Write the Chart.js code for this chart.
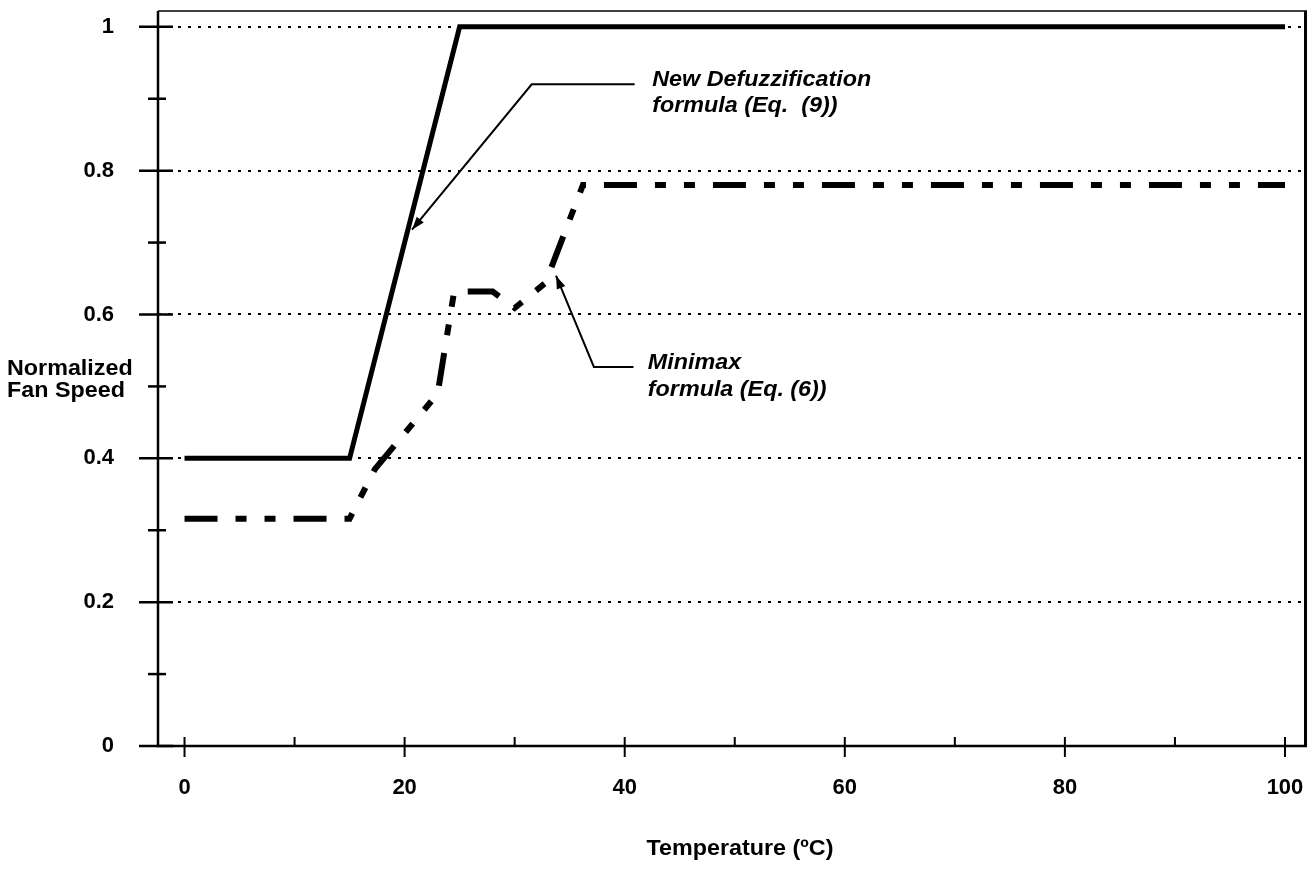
<!DOCTYPE html>
<html>
<head>
<meta charset="utf-8">
<script src="https://cdn.jsdelivr.net/npm/chart.js@4/dist/chart.umd.min.js"></script>
<style>
  html, body { margin: 0; padding: 0; background: #fff; overflow: hidden; }
  canvas { display: block; }
</style>
</head>
<body>
<canvas id="fanChart" width="1316" height="869"></canvas>
<script>
// values
var temperature = [0, 15, 25, 100];
var newDefuzz = [0.4, 0.4, 1, 1];

var minimaxTemp = [0, 15, 17.3, 23, 24.5, 28, 30, 32.8, 36.2, 100];
var minimax = [0.316, 0.316, 0.385, 0.49, 0.632, 0.632, 0.609, 0.644, 0.78, 0.78];

var xTickValues = [0, 10, 20, 30, 40, 50, 60, 70, 80, 90, 100];
var xTickLabels = ['0', '', '20', '', '40', '', '60', '', '80', '', '100'];
var yTickValues = [0, 0.1, 0.2, 0.3, 0.4, 0.5, 0.6, 0.7, 0.8, 0.9, 1];
var yTickLabels = ['0', '', '0.2', '', '0.4', '', '0.6', '', '0.8', '', '1'];

// callouts, in data units: text lines, text anchor, elbow, arrow tip
var callouts = [
  { lines: ['New Defuzzification', 'formula (Eq.  (9))'], textX: 42.5, textY: [0.918, 0.881],
    lineStart: 40.9, elbow: [31.55, 0.92], tip: [20.67, 0.718] },
  { lines: ['Minimax', 'formula (Eq. (6))'], textX: 42.1, textY: [0.524, 0.487],
    lineStart: 40.8, elbow: [37.2, 0.527], tip: [33.76, 0.654] }
];

var FONT = '"Liberation Sans", Arial, Helvetica, sans-serif';

function arrowHead(ctx, fx, fy, tx, ty) {
  var ang = Math.atan2(ty - fy, tx - fx);
  var len = 13, half = 4.5;
  ctx.beginPath();
  ctx.moveTo(tx, ty);
  ctx.lineTo(tx - len * Math.cos(ang) + half * Math.sin(ang), ty - len * Math.sin(ang) - half * Math.cos(ang));
  ctx.lineTo(tx - len * Math.cos(ang) - half * Math.sin(ang), ty - len * Math.sin(ang) + half * Math.cos(ang));
  ctx.closePath();
  ctx.fill();
}

// the scanned lettering is a bit wider than Arial, stretch it slightly
function wideText(ctx, text, px, py) {
  ctx.save();
  ctx.translate(px, py);
  ctx.scale(1.06, 1);
  ctx.fillText(text, 0, 0);
  ctx.restore();
}

var decor = {
  id: 'decor',
  beforeDatasetsDraw: function(chart) {
    var ctx = chart.ctx, a = chart.chartArea, x = chart.scales.x, y = chart.scales.y;
    ctx.save();
    ctx.strokeStyle = '#000';
    ctx.lineCap = 'butt';

    // frame
    ctx.lineWidth = 1.5;
    ctx.beginPath(); ctx.moveTo(a.left, a.top); ctx.lineTo(a.right, a.top); ctx.stroke();
    ctx.lineWidth = 3;
    ctx.beginPath(); ctx.moveTo(a.right - 1.5, a.top); ctx.lineTo(a.right - 1.5, a.bottom); ctx.stroke();
    ctx.lineWidth = 2.5;
    ctx.beginPath(); ctx.moveTo(a.left, a.top); ctx.lineTo(a.left, a.bottom); ctx.lineTo(a.right, a.bottom); ctx.stroke();

    // y tick marks
    ctx.lineWidth = 2.5;
    yTickValues.forEach(function(v, i) {
      var py = y.getPixelForValue(v);
      var major = yTickLabels[i] !== '';
      ctx.beginPath();
      ctx.moveTo(a.left - (major ? 19 : 10), py);
      ctx.lineTo(a.left + (major ? 15 : 8), py);
      ctx.stroke();
    });
    // x tick marks
    ctx.lineWidth = 2;
    xTickValues.forEach(function(v, i) {
      var px = x.getPixelForValue(v);
      var major = xTickLabels[i] !== '';
      ctx.beginPath();
      ctx.moveTo(px, a.bottom - 9);
      ctx.lineTo(px, a.bottom + (major ? 11 : 0));
      ctx.stroke();
    });
    ctx.restore();
  },
  afterDraw: function(chart) {
    var ctx = chart.ctx, x = chart.scales.x, y = chart.scales.y;
    ctx.save();
    ctx.fillStyle = '#000';
    ctx.strokeStyle = '#000';

    // axis titles
    ctx.font = 'bold 22px ' + FONT;
    ctx.textBaseline = 'alphabetic';
    ctx.textAlign = 'left';
    wideText(ctx, 'Normalized', 7, 375);
    wideText(ctx, 'Fan Speed', 7, 397);
    ctx.textAlign = 'center';
    wideText(ctx, 'Temperature (\u00baC)', 740, 855);

    // callouts
    callouts.forEach(function(c) {
      var sx = x.getPixelForValue(c.lineStart), ey = y.getPixelForValue(c.elbow[1]);
      var ex = x.getPixelForValue(c.elbow[0]);
      var tx = x.getPixelForValue(c.tip[0]), ty = y.getPixelForValue(c.tip[1]);
      ctx.lineWidth = 2;
      ctx.beginPath();
      ctx.moveTo(sx, ey);
      ctx.lineTo(ex, ey);
      ctx.lineTo(tx, ty);
      ctx.stroke();
      arrowHead(ctx, ex, ey, tx, ty);

      ctx.font = 'italic bold 22px ' + FONT;
      ctx.textAlign = 'left';
      c.lines.forEach(function(t, i) {
        wideText(ctx, t, x.getPixelForValue(c.textX), y.getPixelForValue(c.textY[i]));
      });
    });
    ctx.restore();
  }
};

var tickFont = { family: FONT, size: 22, weight: 'bold' };

var ctxF = document.getElementById('fanChart').getContext('2d');
var fanChart = new Chart(ctxF, {
  type: 'line',
  data: {
    datasets: [{
        label: 'New Defuzzification formula (Eq. (9))',
        data: temperature.map(function(t, i) { return { x: t, y: newDefuzz[i] }; }),
        borderColor: '#000',
        borderWidth: 5,
        pointRadius: 0,
        fill: false,
        tension: 0
      },
      {
        label: 'Minimax formula (Eq. (6))',
        data: minimaxTemp.map(function(t, i) { return { x: t, y: minimax[i] }; }),
        borderColor: '#000',
        borderWidth: 6,
        borderDash: [33, 18, 11, 18, 11, 18],
        pointRadius: 0,
        fill: false,
        tension: 0
      }
    ]
  },
  options: {
    responsive: false,
    animation: false,
    layout: { padding: { left: 84, right: 9, top: 11, bottom: 63 } },
    plugins: {
      legend: { display: false },
      tooltip: { enabled: false }
    },
    scales: {
      x: {
        type: 'linear',
        min: -2.41,
        max: 102,
        afterBuildTicks: function(s) { s.ticks = xTickValues.map(function(v) { return { value: v }; }); },
        afterFit: function(s) { s.height = 60; s.paddingLeft = 0; s.paddingRight = 0; },
        grid: { display: false, drawTicks: false },
        border: { display: false },
        ticks: {
          padding: 29,
          autoSkip: false,
          maxRotation: 0,
          color: '#000',
          font: tickFont,
          callback: function(v, i) { return xTickLabels[i]; }
        }
      },
      y: {
        type: 'linear',
        min: 0,
        max: 1.022,
        afterBuildTicks: function(s) { s.ticks = yTickValues.map(function(v) { return { value: v }; }); },
        afterFit: function(s) { s.width = 74; s.paddingTop = 0; s.paddingBottom = 0; },
        grid: {
          drawTicks: false,
          lineWidth: 2,
          color: function(c) {
            var i = c.index;
            return (c.tick && yTickLabels[i] !== '' && c.tick.value > 0) ? '#000' : 'rgba(0,0,0,0)';
          }
        },
        border: { display: false, dash: [3, 7] },
        ticks: {
          padding: 44,
          autoSkip: false,
          color: '#000',
          font: tickFont,
          callback: function(v, i) { return yTickLabels[i]; }
        }
      }
    }
  },
  plugins: [decor]
});
</script>
</body>
</html>
